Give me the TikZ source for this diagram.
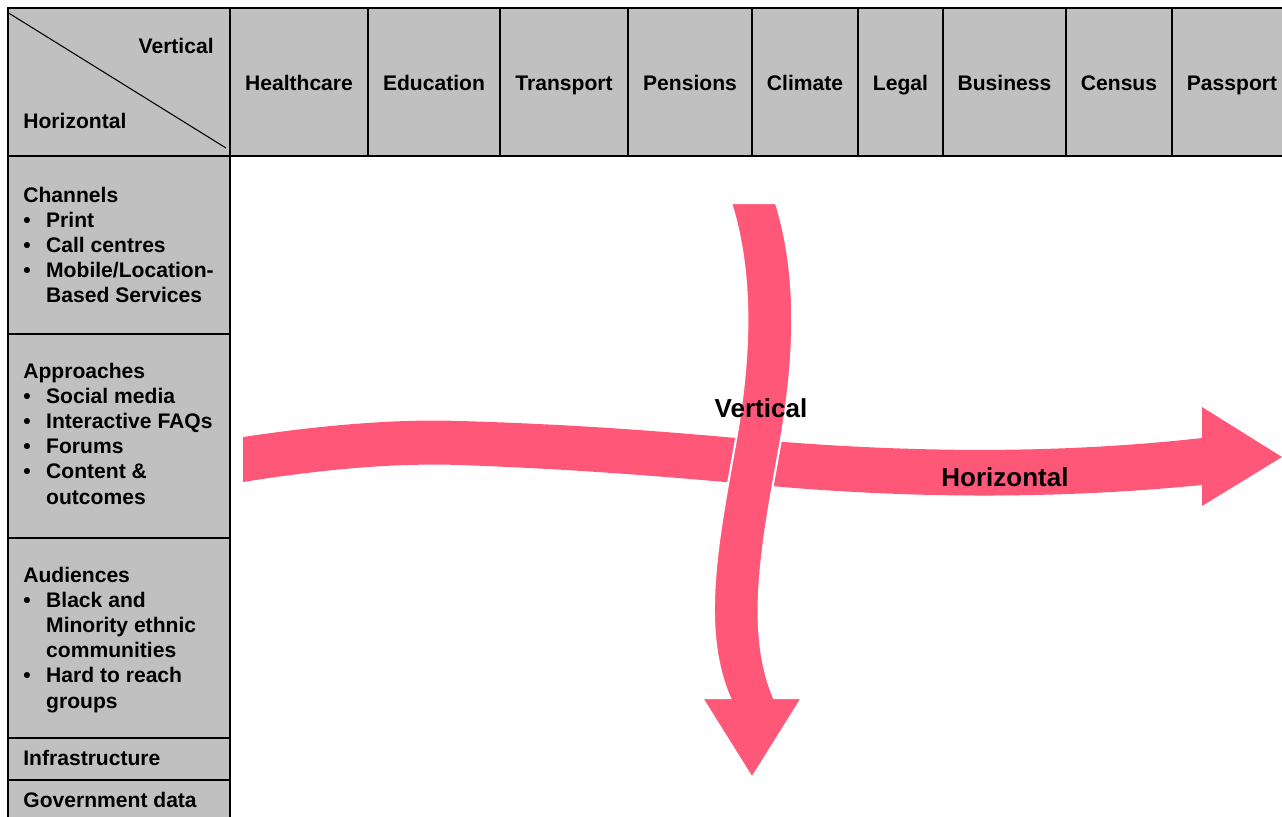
\documentclass[tikz,border=0pt]{standalone}
\usepackage{fontspec}
\setmainfont{Liberation Sans}
\usetikzlibrary{positioning}
\definecolor{cGrid}{RGB}{192,192,192}
\definecolor{cArrow}{RGB}{255,87,120}
\tikzset{
	gridcell/.style={draw=black, line width=1.1pt, fill=cGrid},
	headlabel/.style={font=\fontsize{12}{14.35}\selectfont\bfseries, inner sep=0pt, anchor=base},
	rowlabel/.style={font=\fontsize{12}{14.35}\selectfont\bfseries, inner sep=0pt, anchor=base west, align=left},
	bandarrow/.style={fill=cArrow},
	bandlabel/.style={font=\fontsize{14.8}{17}\selectfont\bfseries, inner sep=0pt, anchor=base},
}
\newcommand{\itemrow}{\textbullet &}

\begin{document}
\begin{tikzpicture}[x=0.02cm, y=-0.02cm]
			\useasboundingbox (0,0) rectangle (1282,816);
			% header row
			\draw[gridcell] (8,8) rectangle (230,156);
			\draw[line width=0.6pt] (7,12) -- (226,148);
			\node[headlabel, anchor=base east] (cornerV) at (214,53) {Vertical};
			\node[headlabel, anchor=base west] (cornerH) at (23,128) {Horizontal};
			\foreach \name/\xa/\xb in {Healthcare/230/368, Education/368/500, Transport/500/628, Pensions/628/752, Climate/752/858, Legal/858/943, Business/943/1066, Census/1066/1172, Passport/1172/1292} {
				\draw[gridcell] (\xa,8) rectangle (\xb,156);
				\node[headlabel] (hd-\name) at ({(\xa+\xb)/2},90) {\name};
			}
			% left column
			\foreach \ya/\yb in {156/334, 334/538, 538/738, 738/780, 780/830}
				\draw[gridcell] (8,\ya) rectangle (230,\yb);
			\node[rowlabel] (channels) at (23,202) {\begin{tabular}[t]{@{}l@{\hspace{8.8pt}}l@{}}
				\multicolumn{2}{@{}l@{}}{Channels}\\
				\itemrow Print\\
				\itemrow Call centres\\
				\itemrow Mobile/Location-\\
				& Based Services
			\end{tabular}};
			\node[rowlabel] (approaches) at (23,378) {\begin{tabular}[t]{@{}l@{\hspace{8.8pt}}l@{}}
				\multicolumn{2}{@{}l@{}}{Approaches}\\
				\itemrow Social media\\
				\itemrow Interactive FAQs\\
				\itemrow Forums\\
				\itemrow Content \&\\
				& outcomes
			\end{tabular}};
			\node[rowlabel] (audiences) at (23,582) {\begin{tabular}[t]{@{}l@{\hspace{8.8pt}}l@{}}
				\multicolumn{2}{@{}l@{}}{Audiences}\\
				\itemrow Black and\\
				& Minority ethnic\\
				& communities\\
				\itemrow Hard to reach\\
				& groups
			\end{tabular}};
			\node[rowlabel] (infra) at (23,765) {Infrastructure};
			\node[rowlabel] (govdata) at (23,807) {Government data};
			% horizontal band
			\fill[bandarrow] (243,437) .. controls (330,424) and (400,419) .. (460,421)
				.. controls (600,425) and (700,435) .. (760,440)
				.. controls (900,452) and (1050,455) .. (1202,438)
				-- (1202,407) -- (1282,457) -- (1202,506) -- (1202,485)
				.. controls (1050,500) and (900,498) .. (760,485)
				.. controls (700,480) and (600,470) .. (460,465)
				.. controls (400,463) and (330,468) .. (243,482) -- cycle;
			% vertical band, white rim over the other one
			\filldraw[bandarrow, draw=white, line width=1.2pt] (731,203) .. controls (752,270) and (752,350) .. (735,445)
				.. controls (718,540) and (700,630) .. (730,698)
				-- (702,698) -- (752,778) -- (802,698) -- (774,698)
				.. controls (745,630) and (763,540) .. (780,445)
				.. controls (797,350) and (797,270) .. (776,203) -- cycle;
			\node[bandlabel] (vlabel) at (761,417) {Vertical};
			\node[bandlabel] (hlabel) at (1005,486) {Horizontal};
		\end{tikzpicture}
\end{document}
